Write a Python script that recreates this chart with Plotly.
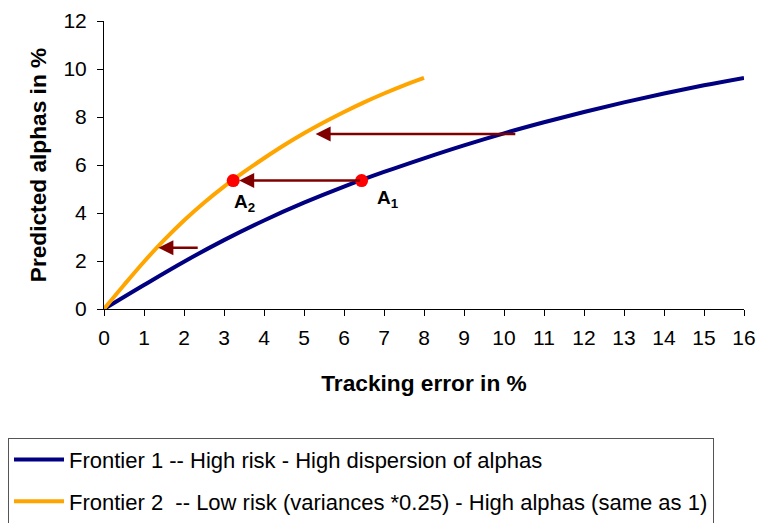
import plotly.graph_objects as go

# Frontier 1 (high risk) - tracking error vs predicted alpha
te1 = [0, 1, 2, 3, 4, 5, 6, 7, 8, 9, 10, 11, 12, 13, 14, 15, 16]
alpha1 = [0, 1.0, 1.97, 2.87, 3.69, 4.43, 5.10, 5.71, 6.28, 6.82, 7.32, 7.78, 8.21, 8.61, 8.98, 9.32, 9.63]
# Frontier 2 (low risk, variances * 0.25)
te2 = [0, 0.5, 1, 1.5, 2, 2.5, 3, 3.5, 4, 4.5, 5, 5.5, 6, 6.5, 7, 7.5, 8]
alpha2 = [0, 1.0, 1.97, 2.87, 3.69, 4.43, 5.10, 5.71, 6.28, 6.82, 7.32, 7.78, 8.21, 8.61, 8.98, 9.32, 9.63]

# Points A1, A2
pt_x = [6.44, 3.23]
pt_y = [5.35, 5.35]
pt_labels = ["A<sub>1</sub>", "A<sub>2</sub>"]
lbl_x = [7.1, 3.5]
lbl_y = [4.6, 4.4]

# Arrows (tail -> head)
arr_tail_x = [10.32, 6.44, 2.38]
arr_head_x = [5.29, 3.38, 1.36]
arr_y = [7.29, 5.35, 2.55]

series_names = ["Frontier 1 -- High risk - High dispersion of alphas",
                "Frontier 2\u00a0\u00a0-- Low risk (variances *0.25) - High alphas (same as 1)"]

FONT = "Arial, Liberation Sans, sans-serif"

fig = go.Figure()
fig.add_trace(go.Scatter(x=te1, y=alpha1, mode="lines", name=series_names[0],
                         line=dict(color="#000080", width=4, shape="spline"),
                         legendgroup="g1"))
fig.add_trace(go.Scatter(x=te2, y=alpha2, mode="lines", name=series_names[1],
                         line=dict(color="#FFA500", width=4, shape="spline"),
                         legendgroup="g2"))
fig.add_trace(go.Scatter(x=pt_x, y=pt_y, mode="markers", showlegend=False,
                         marker=dict(color="#FF0000", size=13)))

for tx, hx, y in zip(arr_tail_x, arr_head_x, arr_y):
    fig.add_annotation(x=hx, y=y, ax=tx, ay=y, xref="x", yref="y", axref="x", ayref="y",
                       text="", showarrow=True, arrowhead=2, arrowsize=1.2, arrowwidth=2.5,
                       arrowcolor="#800000", standoff=0, startstandoff=0)

for lx, ly, t in zip(lbl_x, lbl_y, pt_labels):
    fig.add_annotation(x=lx, y=ly, xref="x", yref="y", text="<b>" + t + "</b>", showarrow=False,
                       font=dict(family=FONT, size=19, color="black"))

fig.update_layout(
    width=761, height=523,
    margin=dict(l=104, r=17, t=21, b=214, autoexpand=False),
    paper_bgcolor="white", plot_bgcolor="white",
    font=dict(family=FONT, color="black"),
    showlegend=True,
    legend=dict(x=-0.15, xanchor="left", y=-0.447, yanchor="top",
                bordercolor="#555555", borderwidth=1, bgcolor="white",
                font=dict(family=FONT, size=22, color="black"),
                itemwidth=50, tracegroupgap=10),
)
fig.update_xaxes(range=[0, 16], dtick=1, tick0=0, showline=True, linecolor="black", linewidth=1,
                 ticks="outside", ticklen=6, tickcolor="black", showgrid=False, zeroline=False,
                 tickfont=dict(family=FONT, size=21), ticklabelstandoff=4,
                 title=dict(text="<b>Tracking error in %</b>", font=dict(family=FONT, size=22.7), standoff=26))
fig.update_yaxes(range=[0, 12], dtick=2, tick0=0, showline=True, linecolor="black", linewidth=1,
                 ticks="outside", ticklen=6, tickcolor="black", showgrid=False, zeroline=False,
                 tickfont=dict(family=FONT, size=21), ticklabelstandoff=6,
                 title=dict(text="<b>Predicted alphas in %</b>", font=dict(family=FONT, size=22.7), standoff=10))

fig.write_html("out.html")
